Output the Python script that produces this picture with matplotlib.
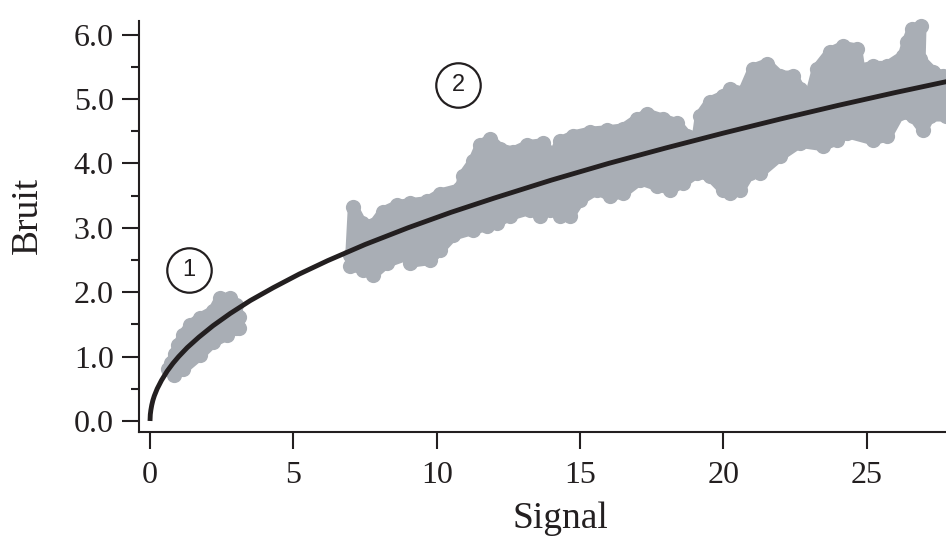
import numpy as np
import matplotlib
matplotlib.use("Agg")
import matplotlib.pyplot as plt

# ---------------- data ----------------
# Cloud 1 : outline points of the measured (signal, noise) cloud (marker centres)
c1_up_x = [0.62, 0.72, 0.86, 0.98, 1.15, 1.40, 1.74, 2.20, 2.44, 2.79, 3.00, 3.12, 3.12]
c1_up_y = [0.80, 0.90, 1.04, 1.18, 1.34, 1.49, 1.60, 1.71, 1.91, 1.91, 1.80, 1.62, 1.45]
c1_lo_x = [0.82, 1.15, 1.74, 2.20, 2.69, 3.00]
c1_lo_y = [0.72, 0.80, 1.02, 1.22, 1.33, 1.45]

# Cloud 2
c2_up_x = [6.99, 7.08, 7.39, 7.78, 8.13, 8.62, 9.07, 9.66, 10.12, 10.81, 10.92, 11.27,
           11.51, 11.86, 12.21, 12.66, 13.15, 13.71, 14.06, 14.30, 14.75, 15.35, 15.94,
           16.50, 16.99, 17.34, 17.89, 18.38, 18.73, 19.08, 19.18, 19.53, 19.99, 20.23,
           20.68, 21.03, 21.52, 21.97, 22.43, 22.67, 23.02, 23.26, 23.72, 24.17, 24.66,
           24.76, 25.22, 25.71, 26.26, 26.40, 26.58, 26.90, 26.87, 27.31, 27.66, 28.20]
c2_up_y = [2.57, 3.33, 3.07, 3.04, 3.25, 3.35, 3.38, 3.41, 3.53, 3.61, 3.81, 4.03,
           4.28, 4.38, 4.23, 4.18, 4.28, 4.31, 4.12, 4.34, 4.43, 4.49, 4.51,
           4.54, 4.69, 4.77, 4.69, 4.62, 4.43, 4.42, 4.74, 4.96, 5.05, 5.16,
           5.11, 5.47, 5.55, 5.36, 5.36, 5.16, 5.05, 5.47, 5.73, 5.82, 5.78,
           5.47, 5.51, 5.51, 5.67, 5.89, 6.09, 6.13, 5.62, 5.42, 5.36, 5.36]
c2_lo_x = [6.99, 7.43, 7.78, 8.27, 8.96, 9.07, 9.77, 10.12, 10.57, 11.27, 11.75, 12.10,
           12.56, 13.25, 13.60, 13.95, 14.30, 14.65, 15.00, 15.59, 16.04, 16.50, 17.09,
           17.68, 18.14, 18.59, 19.08, 19.53, 19.99, 20.23, 20.58, 20.93, 21.28, 21.97,
           22.67, 23.47, 23.96, 24.31, 25.22, 25.71, 26.16, 26.61, 26.96, 27.21, 27.77, 28.20]
c2_lo_y = [2.41, 2.35, 2.27, 2.46, 2.57, 2.46, 2.50, 2.66, 2.88, 2.97, 3.03, 3.08,
           3.19, 3.28, 3.19, 3.28, 3.19, 3.19, 3.43, 3.59, 3.49, 3.54, 3.74,
           3.65, 3.59, 3.70, 3.85, 3.80, 3.59, 3.54, 3.59, 3.85, 3.85, 4.11,
           4.32, 4.27, 4.36, 4.47, 4.36, 4.42, 4.78, 4.73, 4.52, 4.73, 4.73, 4.73]

# Fitted curve (noise vs signal)
fit_x = [0, 0.01, 0.03, 0.06, 0.1, 0.15, 0.25, 0.4, 0.6, 0.8, 1.0, 1.3, 1.7, 2.2, 2.8,
         3.5, 4.3, 5.2, 6.2, 7.5, 9, 10.5, 12, 14, 16, 18, 20, 22, 24, 26, 28]
fit_y = [0, 0.10, 0.17, 0.245, 0.32, 0.39, 0.50, 0.63, 0.775, 0.895, 1.0, 1.14, 1.30,
         1.48, 1.67, 1.87, 2.07, 2.28, 2.49, 2.74, 3.0, 3.24, 3.46, 3.74, 4.0, 4.24,
         4.47, 4.69, 4.90, 5.10, 5.29]

x_ticks = [0, 5, 10, 15, 20, 25]
y_ticks = [0, 1, 2, 3, 4, 5, 6]
y_tick_labels = ["0.0", "1.0", "2.0", "3.0", "4.0", "5.0", "6.0"]
annot_labels = ["1", "2"]
annot_pos = [(1.36, 2.34), (10.74, 5.21)]

# ---------------- styling ----------------
GRAY = "#A9AEB5"
INK = "#231F20"
plt.rcParams["font.family"] = ["Liberation Serif", "DejaVu Serif"]

fig = plt.figure(figsize=(9.46, 5.36), dpi=100)
ax = fig.add_axes([139 / 946, (536 - 432) / 536, (946 - 139) / 946, (432 - 21) / 536])
ax.set_xlim(-0.384, 27.76)
ax.set_ylim(-0.171, 6.21)

for ux, uy, lx, ly in [(c1_up_x, c1_up_y, c1_lo_x, c1_lo_y),
                       (c2_up_x, c2_up_y, c2_lo_x, c2_lo_y)]:
    px = list(ux) + list(lx[::-1])
    py = list(uy) + list(ly[::-1])
    ax.fill(px, py, facecolor=GRAY, edgecolor=GRAY, linewidth=7.5,
            joinstyle="round", clip_on=False, zorder=1)
    ax.scatter(px, py, s=120, color=GRAY, linewidths=0, clip_on=False, zorder=1)

ax.plot(fit_x, fit_y, color=INK, lw=3.5, solid_capstyle="butt", zorder=3)

for lab, (xx, yy) in zip(annot_labels, annot_pos):
    ax.plot([xx], [yy], marker="o", ms=32, mfc="white", mec=INK, mew=1.6,
            zorder=4, clip_on=False)
    ax.text(xx, yy, lab, ha="center", va="center", fontsize=17,
            family=["Liberation Sans", "DejaVu Sans"], color=INK, zorder=5)

for s in ["top", "right"]:
    ax.spines[s].set_visible(False)
for s in ["left", "bottom"]:
    ax.spines[s].set_linewidth(1.5)
    ax.spines[s].set_color(INK)

ax.set_xticks(x_ticks)
ax.set_xticklabels([str(v) for v in x_ticks])
ax.set_yticks(y_ticks)
ax.set_yticklabels(y_tick_labels)
ax.set_yticks([0.5, 1.5, 2.5, 3.5, 4.5, 5.5], minor=True)
ax.tick_params(axis="both", which="major", direction="out", length=12.2, width=1.5,
               color=INK, labelcolor=INK, labelsize=23)
ax.tick_params(axis="x", which="major", pad=9)
ax.tick_params(axis="y", which="major", pad=6)
ax.tick_params(axis="y", which="minor", direction="out", length=6, width=1.5, color=INK)

fig.text(560 / 946, 1 - 528 / 536, "Signal", ha="center", va="baseline",
         fontsize=27, color=INK)
fig.text(28 / 946, 1 - 215 / 536, "Bruit", ha="center", va="center", rotation=90,
         fontsize=27, color=INK)

fig.savefig("out.png", dpi=100)
